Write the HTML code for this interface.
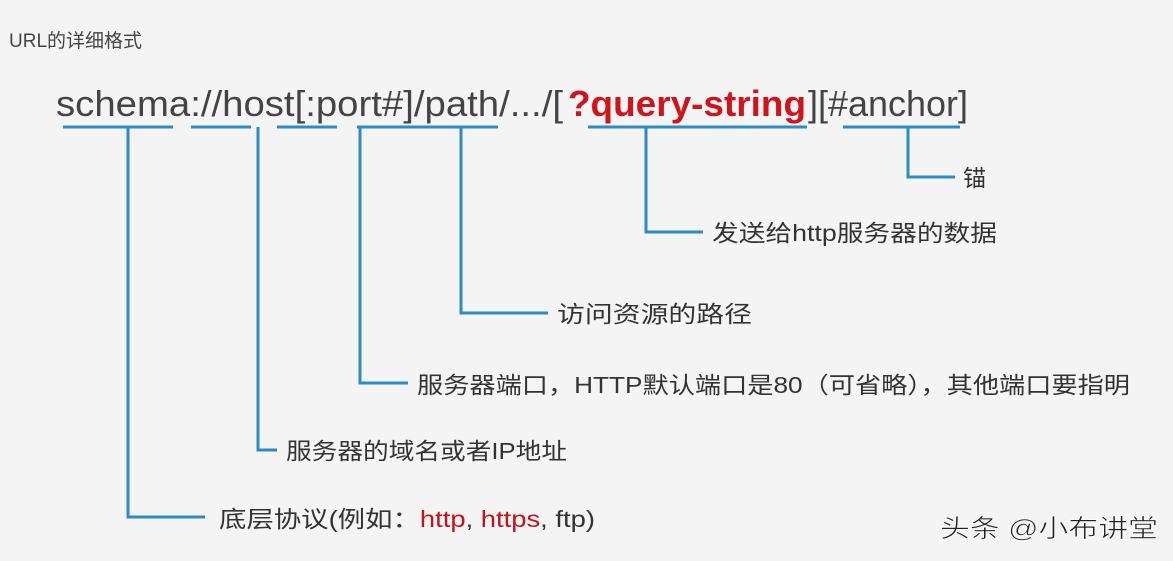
<!DOCTYPE html>
<html><head><meta charset="utf-8"><style>
html,body{margin:0;padding:0;background:#f4f4f4;width:1173px;height:561px;overflow:hidden}
svg{display:block}
text{font-family:"Liberation Sans","Noto Sans CJK SC",sans-serif}
</style></head><body>
<svg width="1173" height="561" viewBox="0 0 1173 561">
<rect width="1173" height="561" fill="#f4f4f4"/>
<text x="9" y="47" font-size="19" fill="#444">URL的详细格式</text>
<g font-size="36" fill="#444">
<text x="56" y="116" textLength="507" lengthAdjust="spacingAndGlyphs">schema://host[:port#]/path/.../[</text>
<text x="568" y="116" textLength="238" lengthAdjust="spacingAndGlyphs" font-weight="bold" fill="#d0141c">?query-string</text>
<text x="808" y="116" textLength="160" lengthAdjust="spacingAndGlyphs">][#anchor]</text>
</g>
<g stroke="#2f8cc0" stroke-width="3" fill="none">
<line x1="63" y1="127" x2="173" y2="127"/>
<line x1="191" y1="127" x2="251" y2="127"/>
<line x1="277" y1="127" x2="337" y2="127"/>
<line x1="357" y1="127" x2="498" y2="127"/>
<line x1="588" y1="127" x2="807" y2="127"/>
<line x1="843" y1="127" x2="960" y2="127"/>
<polyline points="128,127 128,517 205,517"/>
<polyline points="258,127 258,450 277,450"/>
<polyline points="360,127 360,383 408,383"/>
<polyline points="461,127 461,313 548,313"/>
<polyline points="646,127 646,232 703,232"/>
<polyline points="908,127 908,177 955,177"/>
</g>
<g font-size="23" fill="#333">
<text x="963" y="186">锚</text>
<text x="712" y="241" textLength="285" lengthAdjust="spacingAndGlyphs">发送给http服务器的数据</text>
<text x="557" y="322" textLength="195" lengthAdjust="spacingAndGlyphs">访问资源的路径</text>
<text x="417" y="393" textLength="713" lengthAdjust="spacingAndGlyphs">服务器端口，HTTP默认端口是80（可省略），其他端口要指明</text>
<text x="286" y="459" textLength="281" lengthAdjust="spacingAndGlyphs">服务器的域名或者IP地址</text>
<text x="219" y="527" textLength="376" lengthAdjust="spacingAndGlyphs">底层协议(例如：<tspan fill="#c0141c">http</tspan>, <tspan fill="#c0141c">https</tspan>, ftp)</text>
</g>
<text x="940" y="537" font-size="25" fill="#222" stroke="#fff" stroke-width="0.6" textLength="218" lengthAdjust="spacingAndGlyphs">头条 @小布讲堂</text>
</svg>
</body></html>
